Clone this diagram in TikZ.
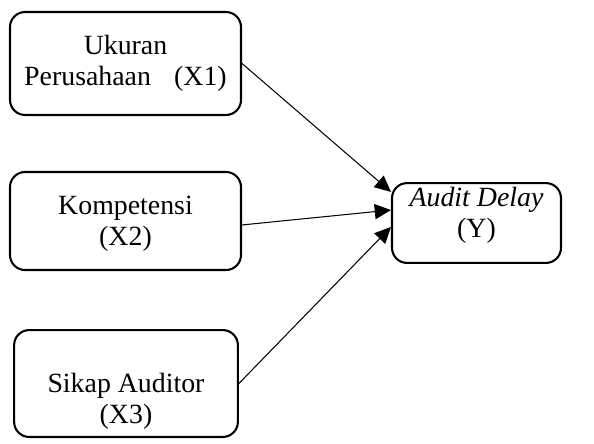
\documentclass[tikz,border=0pt]{standalone}
\usepackage{fontspec}
\setmainfont{Liberation Serif}
\usetikzlibrary{arrows.meta}
\begin{document}
\begin{tikzpicture}[x=0.01515cm, y=-0.01515cm, line cap=round, line join=round,
    var/.style={draw, line width=0.9pt, rounded corners=6.5pt, inner sep=0pt},
    txt/.style={align=center, font=\fontsize{12}{13.2}\selectfont, inner sep=0pt},
    link/.style={line width=0.45pt, -{Triangle[length=7pt, width=6.5pt]}}]
  \useasboundingbox (0,0) rectangle (594,443);
  \node[var, minimum width=3.50cm, minimum height=1.56cm] (x1) at (125.5,63.5) {};
  \node[txt] at (125.5,63) {Ukuran\\Perusahaan\hspace{10pt}(X1)};
  \node[var, minimum width=3.50cm, minimum height=1.485cm] (x2) at (125.5,221) {};
  \node[txt] at (125.5,224) {Kompetensi\\(X2)};
  \node[var, minimum width=3.39cm, minimum height=1.62cm] (x3) at (126,383.5) {};
  \node[txt] at (126,401) {Sikap Auditor\\(X3)};
  \node[var, minimum width=2.56cm, minimum height=1.21cm] (y) at (476.5,223) {};
  \node[txt] at (476.5,215) {\textit{Audit Delay}\\(Y)};
  \draw[link] (x1.east) -- ([yshift=13.4pt]y.west);
  \draw[link] ([yshift=-1.7pt]x2.east) -- ([yshift=5.6pt]y.west);
  \draw[link] (x3.east) -- ([yshift=-1.7pt]y.west);
\end{tikzpicture}
\end{document}
